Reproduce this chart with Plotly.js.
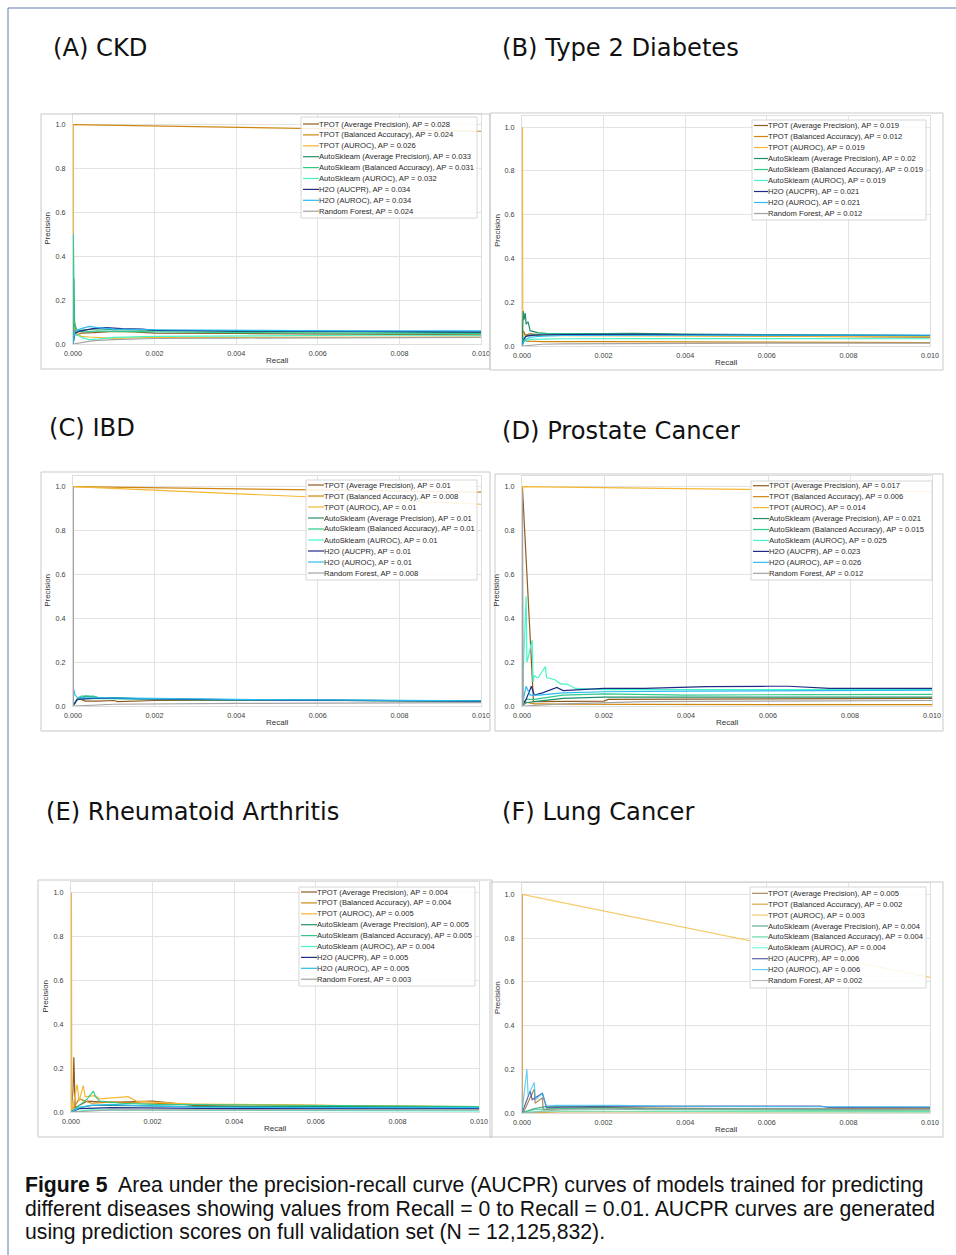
<!DOCTYPE html>
<html>
<head>
<meta charset="utf-8">
<script src="https://cdn.plot.ly/plotly-3.0.1.min.js"></script>
<style>html,body{margin:0;padding:0;background:#fff}#chart{width:956px;height:1255px}</style>
</head>
<body>
<div id="chart"></div>
<script>
// ---------------- DATA ----------------
const models = ['TPOT (Average Precision)', 'TPOT (Balanced Accuracy)', 'TPOT (AUROC)',
  'AutoSkleam (Average Precision)', 'AutoSkleam (Balanced Accuracy)', 'AutoSkleam (AUROC)',
  'H2O (AUCPR)', 'H2O (AUROC)', 'Random Forest'];
const panelTitles = ['(A) CKD', '(B) Type 2 Diabetes', '(C) IBD', '(D) Prostate Cancer',
  '(E) Rheumatoid Arthritis', '(F) Lung Cancer'];
const xTicks = [0, 0.002, 0.004, 0.006, 0.008, 0.010];
const yTicks = [0, 0.2, 0.4, 0.6, 0.8, 1.0];

const apCKD = [0.028, 0.024, 0.026, 0.033, 0.031, 0.032, 0.034, 0.034, 0.024];
const apT2D = [0.019, 0.012, 0.019, 0.02, 0.019, 0.019, 0.021, 0.021, 0.012];
const apIBD = [0.01, 0.008, 0.01, 0.01, 0.01, 0.01, 0.01, 0.01, 0.008];
const apProstate = [0.017, 0.006, 0.014, 0.021, 0.015, 0.025, 0.023, 0.026, 0.012];
const apRA = [0.004, 0.004, 0.005, 0.005, 0.005, 0.004, 0.005, 0.005, 0.003];
const apLung = [0.005, 0.002, 0.003, 0.004, 0.004, 0.004, 0.006, 0.006, 0.002];

// (A) CKD
const recallCKD = [
  [0, 0.00003, 0.0001, 0.0002, 0.0005, 0.001, 0.0015, 0.002, 0.004, 0.007, 0.01],
  [0, 0.01],
  [0.00001, 0.00001, 0.00003, 0.00004, 0.0001, 0.0002, 0.0004, 0.001, 0.002, 0.005, 0.01],
  [0, 0.00002, 0.00004, 0.0001, 0.0003, 0.0006, 0.001, 0.002, 0.004, 0.007, 0.01],
  [0, 0.00001, 0.00003, 0.0001, 0.0003, 0.0006, 0.001, 0.002, 0.004, 0.007, 0.01],
  [0, 0.00005, 0.0002, 0.0004, 0.0006, 0.001, 0.002, 0.004, 0.007, 0.01],
  [0, 0.00005, 0.0002, 0.0005, 0.0008, 0.0012, 0.0017, 0.002, 0.004, 0.007, 0.01],
  [0, 0.00005, 0.0002, 0.0004, 0.0006, 0.001, 0.002, 0.004, 0.007, 0.01],
  [0, 0.0005, 0.001, 0.002, 0.004, 0.007, 0.01]
];
const precisionCKD = [
  [0, 0.07, 0.04, 0.05, 0.052, 0.058, 0.055, 0.05, 0.048, 0.045, 0.042],
  [1.0, 0.97],
  [1.0, 0.0, 0.12, 0.1, 0.05, 0.035, 0.032, 0.026, 0.03, 0.03, 0.032],
  [0, 0.3, 0.08, 0.06, 0.065, 0.07, 0.065, 0.062, 0.058, 0.055, 0.052],
  [0, 0.5, 0.1, 0.06, 0.055, 0.06, 0.058, 0.055, 0.052, 0.05, 0.048],
  [0, 0.05, 0.03, 0.02, 0.022, 0.03, 0.035, 0.038, 0.04, 0.04],
  [0, 0.05, 0.06, 0.07, 0.075, 0.07, 0.068, 0.062, 0.06, 0.058, 0.055],
  [0, 0.06, 0.07, 0.08, 0.075, 0.068, 0.065, 0.062, 0.06, 0.06],
  [0, 0.015, 0.02, 0.025, 0.027, 0.028, 0.03]
];

// (B) Type 2 Diabetes
const recallT2D = [
  [0, 0.00003, 0.00008, 0.0002, 0.0005, 0.001, 0.003, 0.006, 0.01],
  [0, 0.00002, 0.0001, 0.0005, 0.002, 0.005, 0.01],
  [0.00001, 0.00002, 0.00005, 0.0001, 0.0003, 0.001, 0.003, 0.006, 0.01],
  [0, 0.00003, 0.00005, 0.00008, 0.0001, 0.00015, 0.0002, 0.0004, 0.0006, 0.001, 0.0015, 0.002, 0.0027, 0.004, 0.006, 0.01],
  [0, 0.00005, 0.0002, 0.0005, 0.001, 0.003, 0.006, 0.01],
  [0, 0.00005, 0.0002, 0.0005, 0.001, 0.003, 0.006, 0.01],
  [0, 0.00005, 0.0001, 0.0003, 0.001, 0.003, 0.006, 0.01],
  [0, 0.00005, 0.0002, 0.0005, 0.001, 0.003, 0.006, 0.01],
  [0, 0.0005, 0.001, 0.003, 0.006, 0.01]
];
const precisionT2D = [
  [0, 0.07, 0.05, 0.055, 0.05, 0.05, 0.05, 0.045, 0.04],
  [0, 0.03, 0.022, 0.02, 0.02, 0.018, 0.015],
  [1.0, 0.06, 0.05, 0.05, 0.048, 0.047, 0.046, 0.045, 0.043],
  [0, 0.16, 0.12, 0.15, 0.1, 0.11, 0.07, 0.06, 0.058, 0.057, 0.058, 0.057, 0.058, 0.054, 0.052, 0.048],
  [0, 0.04, 0.05, 0.055, 0.055, 0.052, 0.05, 0.047],
  [0, 0.02, 0.03, 0.032, 0.033, 0.034, 0.034, 0.033],
  [0, 0.03, 0.045, 0.05, 0.052, 0.053, 0.05, 0.048],
  [0, 0.025, 0.04, 0.045, 0.048, 0.05, 0.05, 0.05],
  [0, 0.008, 0.01, 0.012, 0.013, 0.013]
];

// (C) IBD
const recallIBD = [
  [0, 0.00015, 0.0002, 0.0003, 0.0006, 0.001, 0.0011, 0.002, 0.004, 0.007, 0.01],
  [0, 0.01],
  [0, 0.01],
  [0, 0.0001, 0.0003, 0.0006, 0.001, 0.002, 0.004, 0.007, 0.01],
  [0, 0.0001, 0.0002, 0.0005, 0.0006, 0.001, 0.002, 0.004, 0.007, 0.01],
  [0, 0.0001, 0.0003, 0.001, 0.002, 0.005, 0.01],
  [0, 0.0001, 0.0005, 0.001, 0.003, 0.006, 0.01],
  [0, 0.00002, 0.00005, 0.0001, 0.0003, 0.001, 0.002, 0.004, 0.007, 0.01],
  [0.00001, 0.00001, 0.001, 0.004, 0.01]
];
const precisionIBD = [
  [0, 0.04, 0.03, 0.022, 0.022, 0.025, 0.02, 0.025, 0.026, 0.025, 0.024],
  [1.0, 0.975],
  [1.0, 0.92],
  [0, 0.03, 0.045, 0.04, 0.038, 0.03, 0.028, 0.025, 0.022],
  [0, 0.03, 0.045, 0.045, 0.04, 0.035, 0.032, 0.028, 0.025, 0.022],
  [0, 0.03, 0.035, 0.033, 0.03, 0.027, 0.023],
  [0, 0.03, 0.035, 0.035, 0.03, 0.026, 0.022],
  [0, 0.075, 0.05, 0.04, 0.038, 0.036, 0.034, 0.03, 0.027, 0.024],
  [1.0, 0.0, 0.008, 0.012, 0.015]
];

// (D) Prostate Cancer
const recallProstate = [
  [0, 0.00001, 0.00028, 0.0005, 0.001, 0.002, 0.0021, 0.004, 0.007, 0.01],
  [0, 0.00001, 0.00002, 0.0003, 0.0005, 0.001, 0.003, 0.006, 0.01],
  [0, 0, 0.01],
  [0, 0.0001, 0.0003, 0.0007, 0.001, 0.002, 0.004, 0.007, 0.01],
  [0, 0.0001, 0.0003, 0.0007, 0.001, 0.002, 0.004, 0.007, 0.01],
  [0, 0.0001, 0.00012, 0.00015, 0.00022, 0.00025, 0.00027, 0.0003, 0.00035, 0.0004, 0.00057, 0.0006, 0.0008, 0.00095, 0.0011, 0.0013, 0.002, 0.004, 0.007, 0.01],
  [0, 0.0001, 0.00023, 0.0003, 0.0005, 0.00085, 0.001, 0.0015, 0.002, 0.003, 0.0045, 0.006, 0.0065, 0.0075, 0.01],
  [0, 0.0001, 0.0002, 0.0004, 0.001, 0.002, 0.004, 0.006, 0.01],
  [0, 0.00001, 0.00003, 0.001, 0.003, 0.006, 0.01]
];
const precisionProstate = [
  [0, 1.0, 0.02, 0.02, 0.022, 0.022, 0.03, 0.032, 0.034, 0.035],
  [0, 0.14, 0.02, 0.01, 0.01, 0.008, 0.007, 0.006, 0.006],
  [0, 1.0, 0.977],
  [0, 0.015, 0.02, 0.03, 0.035, 0.04, 0.04, 0.04, 0.04],
  [0, 0.03, 0.03, 0.04, 0.05, 0.055, 0.05, 0.052, 0.053],
  [0, 0.5, 0.2, 0.22, 0.28, 0.3, 0.11, 0.14, 0.13, 0.13, 0.18, 0.13, 0.12, 0.1, 0.1, 0.08, 0.075, 0.075, 0.072, 0.075],
  [0, 0.03, 0.09, 0.05, 0.06, 0.085, 0.07, 0.075, 0.08, 0.08, 0.088, 0.09, 0.09, 0.08, 0.08],
  [0, 0.09, 0.05, 0.05, 0.06, 0.065, 0.068, 0.07, 0.072],
  [0, 0.97, 0.0, 0.01, 0.02, 0.022, 0.025]
];

// (E) Rheumatoid Arthritis
const recallRA = [
  [0, 0.00005, 0.00007, 0.0001, 0.0002, 0.0004, 0.0008, 0.0012, 0.002, 0.003, 0.006, 0.01],
  [0, 0.0001, 0.0002, 0.0005, 0.001, 0.002, 0.003, 0.006, 0.01],
  [0, 0.00001, 0.00002, 0.00015, 0.0002, 0.0003, 0.00035, 0.0006, 0.0007, 0.001, 0.0014, 0.0016, 0.0022, 0.003, 0.004, 0.006, 0.01],
  [0, 0.0002, 0.0005, 0.001, 0.003, 0.006, 0.01],
  [0, 0.0002, 0.0004, 0.00055, 0.0006, 0.0007, 0.0012, 0.002, 0.005, 0.01],
  [0, 0.0005, 0.002, 0.005, 0.01],
  [0, 0.0002, 0.001, 0.004, 0.01],
  [0, 0.0002, 0.0005, 0.001, 0.0015, 0.003, 0.006, 0.01],
  [0, 0.001, 0.004, 0.01]
];
const precisionRA = [
  [0, 0.1, 0.25, 0.02, 0.03, 0.05, 0.045, 0.045, 0.05, 0.03, 0.02, 0.015],
  [0, 0.03, 0.06, 0.04, 0.045, 0.04, 0.035, 0.03, 0.022],
  [0, 1.0, 0.0, 0.125, 0.05, 0.12, 0.07, 0.075, 0.06, 0.065, 0.07, 0.05, 0.045, 0.035, 0.035, 0.03, 0.025],
  [0, 0.02, 0.03, 0.03, 0.025, 0.025, 0.025],
  [0, 0.03, 0.06, 0.095, 0.07, 0.05, 0.04, 0.035, 0.03, 0.025],
  [0, 0.01, 0.008, 0.006, 0.005],
  [0, 0.015, 0.02, 0.015, 0.015],
  [0, 0.02, 0.03, 0.035, 0.03, 0.022, 0.02, 0.02],
  [0, 0.01, 0.01, 0.01]
];

// (F) Lung Cancer
const recallLung = [
  [0, 0.00003, 0.0003, 0.00032, 0.0005, 0.00052, 0.001, 0.002, 0.005, 0.01],
  [0.00001, 0.00001, 0.001, 0.005, 0.01],
  [0, 0.01],
  [0, 0.0003, 0.0006, 0.001, 0.003, 0.006, 0.01],
  [0, 0.0003, 0.0008, 0.0015, 0.003, 0.006, 0.01],
  [0, 0.0005, 0.002, 0.005, 0.01],
  [0, 0.0002, 0.00025, 0.0005, 0.0006, 0.002, 0.005, 0.0073, 0.0075, 0.01],
  [0, 0.00012, 0.00015, 0.0003, 0.00033, 0.0005, 0.0006, 0.0008, 0.0015, 0.0023, 0.004, 0.006, 0.01],
  [0, 0.001, 0.004, 0.0075, 0.0077, 0.01]
];
const precisionLung = [
  [0, 0.0, 0.11, 0.045, 0.07, 0.015, 0.02, 0.025, 0.02, 0.02],
  [1.0, 0.0, 0.005, 0.005, 0.005],
  [1.0, 0.62],
  [0, 0.02, 0.03, 0.03, 0.02, 0.018, 0.015],
  [0, 0.015, 0.02, 0.02, 0.015, 0.012, 0.01],
  [0, 0.01, 0.008, 0.006, 0.005],
  [0, 0.1, 0.06, 0.09, 0.025, 0.03, 0.032, 0.032, 0.026, 0.026],
  [0, 0.2, 0.08, 0.14, 0.06, 0.09, 0.03, 0.035, 0.035, 0.035, 0.03, 0.03, 0.028],
  [0, 0.015, 0.018, 0.02, 0.015, 0.015]
];

// ---------------- STYLE / LAYOUT ----------------
const colors = ['#8f5b22', '#cf860f', '#f5b731', '#1f9068', '#2fca8c', '#45f5c8', '#1e2a84', '#2cbcf2', '#a3a3a3'];
const W = 956, H = 1255;
const fx = x => x / W, fy = y => 1 - y / H;

const allRecall = [recallCKD, recallT2D, recallIBD, recallProstate, recallRA, recallLung];
const allPrecision = [precisionCKD, precisionT2D, precisionIBD, precisionProstate, precisionRA, precisionLung];
const allAP = [apCKD, apT2D, apIBD, apProstate, apRA, apLung];

// plot geometry in px: x0 (recall 0), x1 (recall .01), y0 (precision 0), y1 (precision 1)
const geo = [
  {x0: 73, x1: 481, y0: 344, y1: 124.7},
  {x0: 522, x1: 930, y0: 346, y1: 127},
  {x0: 73, x1: 481, y0: 706, y1: 486.7},
  {x0: 522, x1: 932, y0: 706, y1: 486.7},
  {x0: 71, x1: 479, y0: 1112, y1: 892.7},
  {x0: 522, x1: 930, y0: 1113, y1: 894.3}
];
const frames = [[41, 114, 490, 369], [490, 113, 943, 370], [41, 472, 490, 731], [495, 474, 943, 731], [38, 880, 492, 1137], [490, 882, 943, 1137]];
const legendBoxes = [
  {l: 301, r: 477, t: 117, b: 218, tx: 319, row0: 124, dy: 10.9},
  {l: 752, r: 926, t: 120, b: 220, tx: 768, row0: 125.5, dy: 11.0},
  {l: 306, r: 477, t: 480, b: 580, tx: 324, row0: 485, dy: 11.0},
  {l: 751, r: 932, t: 481, b: 580, tx: 769, row0: 485.7, dy: 10.95},
  {l: 299, r: 475, t: 887, b: 986, tx: 317, row0: 892, dy: 10.9},
  {l: 750, r: 926, t: 887, b: 988, tx: 768, row0: 893.3, dy: 10.9}
];
const titlePos = [[54, 48], [503, 48], [50, 428], [503, 431], [47, 812], [503, 812]];

const data = [];
const layout = {
  width: W, height: H, margin: {l: 0, r: 0, t: 0, b: 0},
  paper_bgcolor: '#fff', plot_bgcolor: '#fff', showlegend: false,
  shapes: [], annotations: []
};

geo.forEach((g, i) => {
  const n = i === 0 ? '' : String(i + 1);
  const yTop = g.y0 - 1.05 * (g.y0 - g.y1);
  const axFont = {family: 'Liberation Sans, Arial, sans-serif', size: 7.2, color: '#3c3c3c'};
  layout['xaxis' + n] = {
    domain: [fx(g.x0), fx(g.x1)], anchor: 'y' + n, range: [0, 0.01],
    tickvals: xTicks, tickformat: '.3f', ticks: '', ticklabelstandoff: 2,
    showgrid: true, gridcolor: '#e3e3e3', gridwidth: 1, zeroline: false,
    showline: true, linecolor: '#dedede', linewidth: 1, mirror: true,
    tickfont: axFont, fixedrange: true
  };
  layout['yaxis' + n] = {
    domain: [fy(g.y0), fy(yTop)], anchor: 'x' + n, range: [0, 1.05],
    tickvals: yTicks, tickformat: '.1f', ticks: '', ticklabelstandoff: 5,
    showgrid: true, gridcolor: '#e3e3e3', gridwidth: 1, zeroline: false,
    showline: true, linecolor: '#dedede', linewidth: 1, mirror: true,
    tickfont: axFont, fixedrange: true
  };
  models.forEach((m, j) => {
    data.push({
      x: allRecall[i][j], y: allPrecision[i][j], xaxis: 'x' + n, yaxis: 'y' + n,
      type: 'scatter', mode: 'lines', name: m, showlegend: false, hoverinfo: 'skip',
      line: {color: colors[j], width: 1.2}, opacity: i === 5 ? 0.72 : 1
    });
  });
  // axis titles
  layout.annotations.push({xref: 'paper', yref: 'paper', x: fx((g.x0 + g.x1) / 2), y: fy(g.y0 + 16.5),
    text: 'Recall', showarrow: false, xanchor: 'center', yanchor: 'middle',
    font: {family: 'Liberation Sans, Arial, sans-serif', size: 8, color: '#333'}});
  layout.annotations.push({xref: 'paper', yref: 'paper', x: fx(g.x0 - 25), y: fy((g.y0 + yTop) / 2),
    text: 'Precision', showarrow: false, textangle: -90, xanchor: 'center', yanchor: 'middle',
    font: {family: 'Liberation Sans, Arial, sans-serif', size: 8, color: '#333'}});
  // frame
  const f = frames[i];
  layout.shapes.push({type: 'rect', xref: 'paper', yref: 'paper', x0: fx(f[0]), x1: fx(f[2]), y0: fy(f[3]), y1: fy(f[1]),
    line: {color: '#c9c9c9', width: 1}, fillcolor: 'rgba(0,0,0,0)', layer: 'above'});
  // legend
  const lb = legendBoxes[i];
  layout.shapes.push({type: 'rect', xref: 'paper', yref: 'paper', x0: fx(lb.l), x1: fx(lb.r), y0: fy(lb.b), y1: fy(lb.t),
    line: {color: '#d6d6d6', width: 1}, fillcolor: 'rgba(255,255,255,0.85)', layer: 'above'});
  models.forEach((m, j) => {
    const yy = lb.row0 + j * lb.dy;
    layout.shapes.push({type: 'line', xref: 'paper', yref: 'paper', x0: fx(lb.l + 2), x1: fx(lb.tx), y0: fy(yy), y1: fy(yy),
      line: {color: colors[j], width: 1.2}, opacity: i === 5 ? 0.72 : 1, layer: 'above'});
    layout.annotations.push({xref: 'paper', yref: 'paper', x: fx(lb.tx - 2), y: fy(yy),
      text: m + ', AP = ' + allAP[i][j], showarrow: false, xanchor: 'left', yanchor: 'middle',
      font: {family: 'Liberation Sans, Arial, sans-serif', size: 7.65, color: '#2a2a2a'}});
  });
  // panel title
  layout.annotations.push({xref: 'paper', yref: 'paper', x: fx(titlePos[i][0] - 3), y: fy(titlePos[i][1]),
    text: panelTitles[i], showarrow: false, xanchor: 'left', yanchor: 'middle',
    font: {family: 'DejaVu Sans, sans-serif', size: 24.2, color: '#111'}});
});

// outer border lines
layout.shapes.push({type: 'line', xref: 'paper', yref: 'paper', x0: fx(8), x1: fx(956), y0: fy(8), y1: fy(8), line: {color: '#5c7db3', width: 1}});
layout.shapes.push({type: 'line', xref: 'paper', yref: 'paper', x0: fx(8), x1: fx(8), y0: fy(8), y1: fy(1255), line: {color: '#5c7db3', width: 1}});

// caption
const captionLines = [
  '<b>Figure 5</b>  Area under the precision-recall curve (AUCPR) curves of models trained for predicting',
  'different diseases showing values from Recall = 0 to Recall = 0.01. AUCPR curves are generated',
  'using prediction scores on full validation set (N = 12,125,832).'
];
const captionY = [1185, 1209, 1232];
captionLines.forEach((t, k) => {
  layout.annotations.push({xref: 'paper', yref: 'paper', x: fx(23), y: fy(captionY[k]), text: t,
    showarrow: false, xanchor: 'left', yanchor: 'middle',
    font: {family: 'Liberation Sans, Arial, sans-serif', size: 21.2, color: '#111'}});
});

Plotly.newPlot('chart', data, layout, {displayModeBar: false, staticPlot: true});
</script>
</body>
</html>
